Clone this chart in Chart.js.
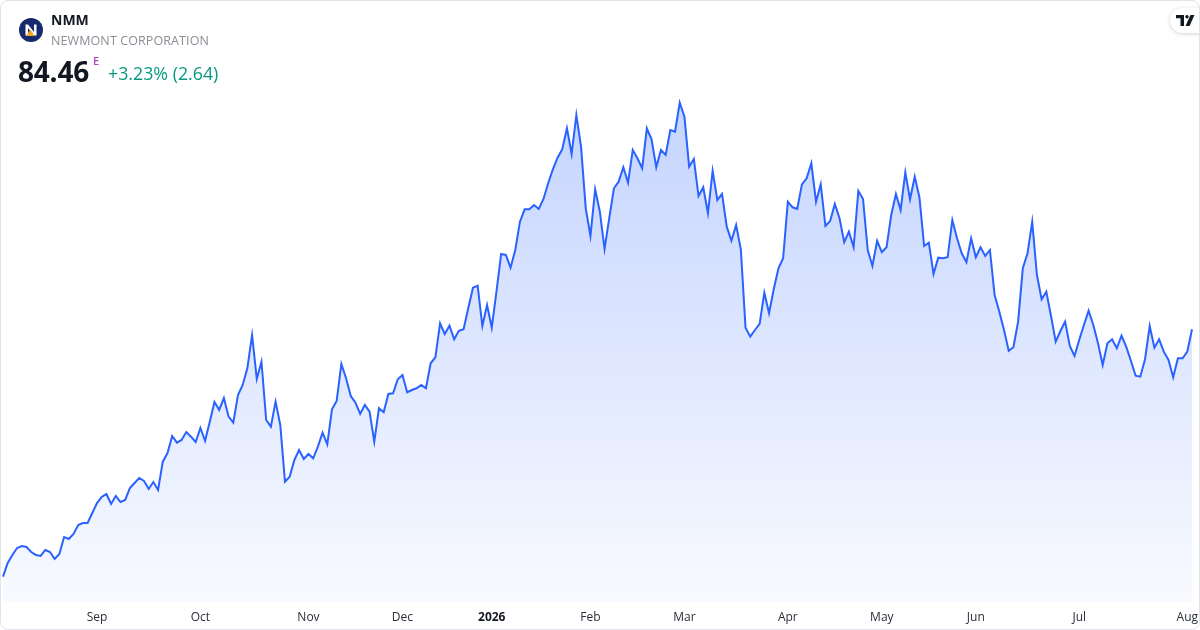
<!DOCTYPE html>
<html>
<head>
<meta charset="utf-8">
<script src="https://cdn.jsdelivr.net/npm/chart.js@4/dist/chart.umd.min.js"></script>
<style>
  html, body { margin: 0; padding: 0; background: #fff; }
  #wrap { position: relative; width: 1200px; height: 630px; overflow: hidden; font-family: "Open Sans", "Noto Sans", sans-serif; }
  #chart { position: absolute; left: 0; top: 0; }
  #frame { position: absolute; left: 0; top: 0; width: 1200px; height: 630px; box-sizing: border-box;
           border: 1px solid #e0e3eb; border-radius: 8px; pointer-events: none; }
  .logo { position: absolute; left: 19px; top: 18px; width: 24px; height: 24px; }
  .sym { position: absolute; left: 51px; top: 10px; font-size: 14px; font-weight: 700; color: #131722; }
  .name { position: absolute; left: 51px; top: 32px; font-size: 12.5px; color: #8a8d96; letter-spacing: 0.1px; }
  .price { position: absolute; left: 18px; top: 52px; font-size: 28px; font-weight: 700; color: #131722; letter-spacing: -0.2px; }
  .flag { position: absolute; left: 93px; top: 53px; font-size: 11px; font-weight: 600; color: #ab47bc; }
  .chg { position: absolute; left: 108px; top: 61px; font-size: 17.8px; color: #089981; }
  .tv { position: absolute; left: 1170px; top: 8px; width: 48px; height: 25px; border-radius: 13px; background: #fff;
        box-shadow: 0 1px 4px rgba(0,0,0,0.18); }
  .tv svg { position: absolute; left: 6px; top: 7px; }
</style>
</head>
<body>
<div id="wrap">
  <canvas id="chart" width="1200" height="630"></canvas>
  <svg class="logo" viewBox="0 0 24 24">
    <circle cx="12" cy="12" r="12" fill="#172a6e"/>
    <path d="M6.5 17.5 V6.5 H9 L15 14 V6.5 H17.5 V17.5 H15 L9 10 V17.5 Z" fill="#ffffff"/>
    <path d="M7 18 L11.5 11.5 L15.5 18 Z" fill="#f5a623"/>
  </svg>
  <div class="sym">NMM</div>
  <div class="name">NEWMONT CORPORATION</div>
  <div class="price">84.46</div>
  <div class="flag">E</div>
  <div class="chg">+3.23% (2.64)</div>
  <div class="tv">
    <svg width="20" height="11" viewBox="0 0 20 11">
      <path d="M0 0 H8 V11 H4.5 V3.3 H0 Z" fill="#131722"/>
      <circle cx="11" cy="1.7" r="1.7" fill="#131722"/>
      <path d="M14.5 0 H18.5 L13.5 11 H9.5 Z" fill="#131722"/>
    </svg>
  </div>
  <div id="frame"></div>
</div>
<script>
// daily closes, one per trading day
const closes = [
  55.27, 56.88, 57.83, 58.65, 58.89, 58.77, 58.18, 57.83, 57.71, 58.42,
  58.18, 57.36, 57.95, 59.95, 59.72, 60.31, 61.37, 61.60, 61.60, 62.78,
  63.96, 64.67, 65.03, 63.85, 64.79, 64.08, 64.32, 65.73, 66.32, 66.91,
  66.56, 65.62, 66.44, 65.50, 68.84, 69.86, 71.87, 71.08, 71.40, 72.34,
  71.79, 71.16, 72.81, 71.31, 73.56, 75.88, 74.94, 76.35, 74.15, 73.44,
  76.71, 77.89, 79.89, 83.79, 78.60, 80.64, 73.76, 72.97, 75.92, 73.17,
  66.48, 67.07, 69.04, 70.22, 69.16, 69.75, 69.24, 70.61, 72.26, 70.89,
  75.02, 76.00, 80.37, 78.68, 76.59, 75.80, 74.47, 75.53, 74.74, 71.20,
  75.14, 74.67, 76.83, 76.91, 78.56, 79.07, 77.03, 77.30, 77.50, 77.89,
  77.50, 80.45, 81.16, 85.17, 83.91, 84.88, 83.28, 84.29, 84.46, 86.94,
  89.37, 89.60, 84.85, 87.33, 84.65, 88.90, 93.35, 93.23, 91.73, 93.82,
  97.16, 98.62, 98.62, 99.13, 98.66, 99.84, 101.69, 103.34, 104.71, 105.70,
  108.18, 105.15, 109.75, 106.01, 98.74, 95.47, 100.98, 98.34, 93.94, 97.59,
  101.10, 101.88, 103.58, 101.76, 105.62, 104.64, 103.46, 108.18, 106.88, 103.58,
  105.62, 105.03, 107.98, 107.78, 111.20, 109.55, 103.65, 104.56, 100.19, 101.22,
  98.15, 103.14, 99.72, 100.43, 96.57, 94.91, 96.77, 93.90, 84.65, 83.59,
  84.38, 85.09, 88.78, 86.35, 89.18, 91.66, 92.84, 99.52, 98.86, 98.66,
  101.57, 102.28, 104.05, 99.52, 101.57, 96.65, 97.24, 99.25, 97.56, 94.73,
  95.98, 94.14, 100.78, 99.84, 93.82, 91.93, 94.91, 93.55, 94.14, 97.95,
  100.43, 98.54, 102.99, 99.80, 102.47, 100.04, 94.29, 94.68, 90.99, 92.91,
  92.84, 92.96, 97.36, 95.20, 93.43, 92.37, 95.20, 92.96, 94.14, 93.11,
  93.82, 88.51, 86.54, 84.38, 81.93, 82.34, 85.36, 91.66, 93.43, 97.16,
  90.87, 88.00, 88.90, 86.03, 83.00, 84.26, 85.36, 82.49, 81.31, 83.20,
  84.97, 86.65, 84.97, 82.81, 80.25, 82.81, 83.28, 82.22, 83.70, 82.41,
  80.75, 78.98, 78.87, 80.92, 84.85, 82.29, 83.28, 81.82, 80.84, 78.80,
  81.04, 81.04, 81.82, 84.46
];

// month tick labels and the trading day each one starts on
const monthNames  = ['Sep', 'Oct', 'Nov', 'Dec', '2026', 'Feb', 'Mar', 'Apr', 'May', 'Jun', 'Jul', 'Aug'];
const monthStarts = [20, 42, 65, 85, 104, 125, 145, 167, 187, 207, 229, 252];

const labels = closes.map(() => '');
monthStarts.forEach((idx, k) => { labels[idx] = monthNames[k]; });

const ctx = document.getElementById('chart').getContext('2d');

new Chart(ctx, {
  type: 'line',
  data: {
    labels: labels,
    datasets: [{
      data: closes,
      borderColor: '#2962ff',
      borderWidth: 2,
      pointRadius: 0,
      tension: 0,
      fill: 'start',
      backgroundColor: function(c) {
        const area = c.chart.chartArea;
        if (!area) return 'rgba(41,98,255,0.15)';
        const g = c.chart.ctx.createLinearGradient(0, area.top, 0, area.bottom);
        g.addColorStop(0, 'rgba(41,98,255,0.32)');
        g.addColorStop(1, 'rgba(41,98,255,0.03)');
        return g;
      }
    }]
  },
  options: {
    responsive: false,
    animation: false,
    devicePixelRatio: 1,
    events: [],
    layout: { padding: { left: 3, right: 8, top: 0, bottom: 0 } },
    plugins: { legend: { display: false }, tooltip: { enabled: false } },
    scales: {
      x: {
        type: 'category',
        offset: false,
        border: { display: false },
        grid: { display: false, drawTicks: false },
        afterBuildTicks: function(s) { s.ticks = s.ticks.filter(t => labels[t.value]); },
        afterFit: function(s) { s.height = 28; s.paddingLeft = 0; s.paddingRight = 0; },
        ticks: {
          autoSkip: false,
          maxRotation: 0,
          minRotation: 0,
          padding: 8,
          color: function(c) { return c.tick && c.tick.label === '2026' ? '#131722' : '#2a2e39'; },
          font: function(c) {
            const bold = c.tick && c.tick.label === '2026';
            return { family: '"Open Sans", sans-serif', size: 12, weight: bold ? 'bold' : 'normal' };
          }
        }
      },
      y: {
        display: false,
        min: 52.28,
        max: 123.32
      }
    }
  }
});
</script>
</body>
</html>
